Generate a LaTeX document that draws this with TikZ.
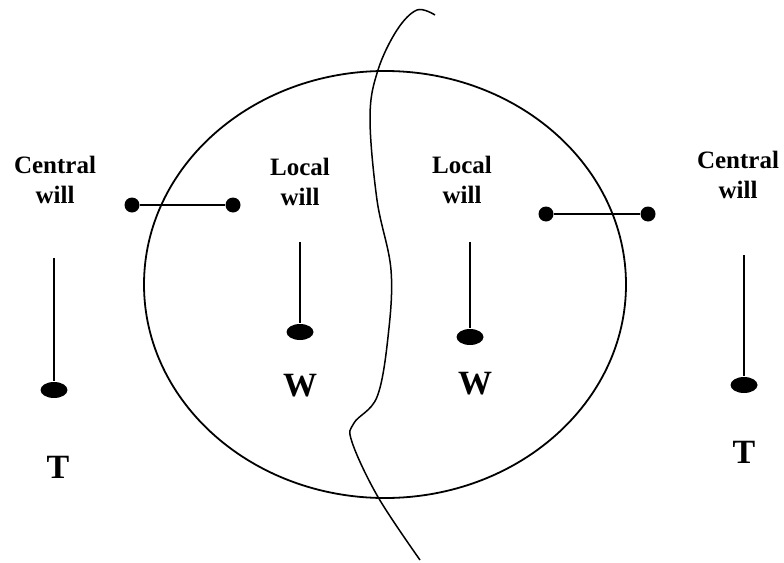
\documentclass[tikz,border=0pt]{standalone}
\usepackage{fontspec}
\setmainfont{Liberation Serif}
\usetikzlibrary{shapes.geometric}
\tikzset{
  lbl/.style={align=center,inner sep=0pt,font=\fontsize{25}{30}\selectfont\bfseries},
  big/.style={inner sep=0pt,font=\fontsize{34}{40}\selectfont\bfseries},
  pin/.style={circle,fill,inner sep=0pt,minimum size=15pt},
  blob/.style={ellipse,fill,inner sep=0pt,minimum width=27pt,minimum height=16pt},
}
\begin{document}
\begin{tikzpicture}[x=1pt,y=-1pt,line width=1.8pt]
  \useasboundingbox (0,0) rectangle (784,562);
  % the circle
  \draw (385,284.5) ellipse[x radius=241,y radius=213.5];
  % dividing line
  \draw[line width=1.5pt] plot[smooth,tension=0.6] coordinates {(435,15) (417,10) (397,30) (378,70) (370,117) (377,200) (391,270) (388,337) (377,397) (354,423) (352,442) (378,497) (420,560)};
  % left side
  \node[lbl] (cwl) at (55,180) {Central\\will};
  \node[pin] (bl1) at (132,205) {};
  \node[pin] (bl2) at (233,205) {};
  \draw (bl1) -- (bl2);
  \coordinate (tl) at (54,258);
  \node[blob] (dl) at (54,390) {};
  \draw (tl) -- (dl.north);
  \node[big] (Tl) at (58,467) {T};
  \node[lbl] (lwl) at (300,182) {Local\\will};
  \coordinate (ml) at (300,242);
  \node[blob] (wl) at (300,332) {};
  \draw (ml) -- (wl.north);
  \node[big] (Wl) at (300,386) {W};
  % right side
  \node[lbl] (lwr) at (462,180) {Local\\will};
  \coordinate (mr) at (470,242);
  \node[blob] (wr) at (470,337) {};
  \draw (mr) -- (wr.north);
  \node[big] (Wr) at (475,384) {W};
  \node[pin] (br1) at (546,214) {};
  \node[pin] (br2) at (648,214) {};
  \draw (br1) -- (br2);
  \node[lbl] (cwr) at (738,175) {Central\\will};
  \coordinate (tr) at (744,255);
  \node[blob] (dr) at (744,385) {};
  \draw (tr) -- (dr.north);
  \node[big] (Tr) at (744,452) {T};
\end{tikzpicture}
\end{document}
